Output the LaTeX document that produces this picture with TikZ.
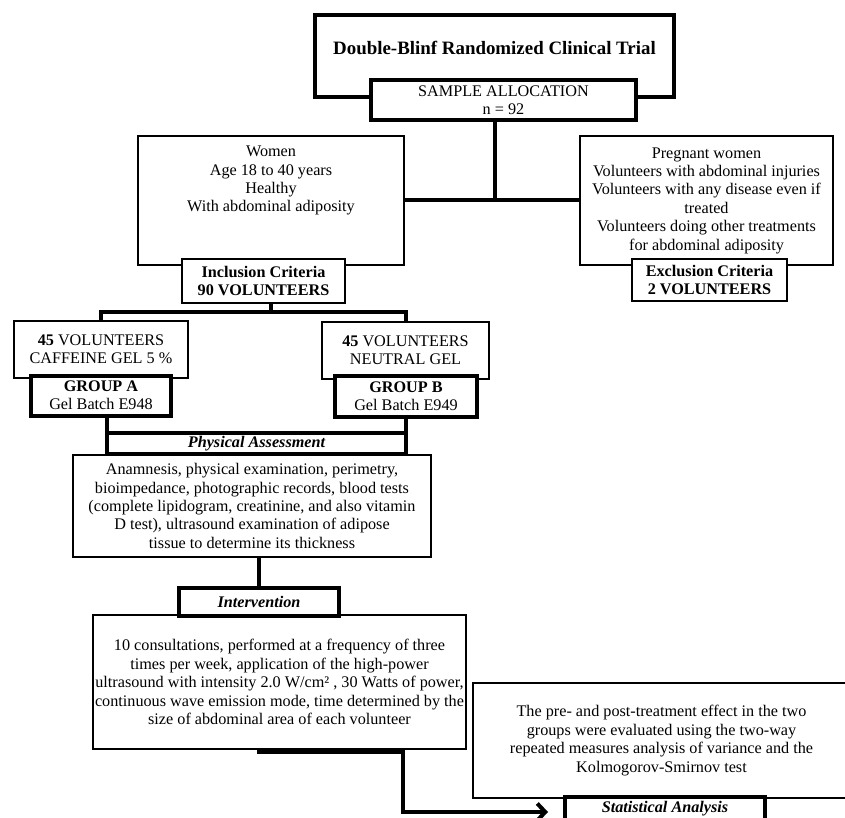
\documentclass[tikz,border=0pt]{standalone}
\usepackage{fontspec}
\setmainfont{Liberation Serif}
\usetikzlibrary{arrows.meta,positioning,backgrounds}
\newcommand{\chartfont}{\fontsize{16.2}{18.4}\selectfont}

\begin{document}
\begin{tikzpicture}[
  x=1pt, y=-1pt,
  thinbox/.style={rectangle, draw, line width=1.1pt, fill=white, align=center, inner sep=0pt, outer sep=0pt, font=\chartfont},
  thickbox/.style={rectangle, draw, line width=4pt, fill=white, align=center, inner sep=0pt, outer sep=0pt, font=\chartfont},
  boldtxt/.style={font=\chartfont\bfseries},
  itbold/.style={font=\chartfont\bfseries\itshape},
  wire/.style={line width=4pt},
  arrow/.style={wire, -{Straight Barb[length=8pt,width=17pt]}}
]
  \path[use as bounding box, clip] (0,0) rectangle (845,818);

  \node[thickbox, minimum width=359pt, minimum height=82pt, text depth=16pt, font=\fontsize{18.9}{22}\selectfont\bfseries] (trial) at (494.5,56) {Double-Blinf Randomized Clinical Trial};
  \node[thickbox, minimum width=265pt, minimum height=40pt] (sample) at (503.5,100) {SAMPLE ALLOCATION\\n = 92};

  \node[thinbox, inner ysep=10pt] (incl) at (271,200.5)
    {\parbox[c][109pt][t]{266pt}{\centering Women\\Age 18 to 40 years\\Healthy\\With abdominal adiposity}};
  \node[thinbox, boldtxt, minimum width=163pt, minimum height=44pt] (inclcrit) at (263.5,281) {Inclusion Criteria\\90 VOLUNTEERS};
  \node[thinbox, minimum width=253pt, minimum height=129pt] (excl) at (706.5,200.5)
    {Pregnant women\\Volunteers with abdominal injuries\\Volunteers with any disease even if\\treated\\Volunteers doing other treatments\\for abdominal adiposity};
  \node[thinbox, boldtxt, minimum width=155pt, minimum height=42pt] (exclcrit) at (709.5,280) {Exclusion Criteria\\2 VOLUNTEERS};

  \node[thinbox, minimum width=174pt, minimum height=57pt] (ga) at (101,349.5) {\textbf{45} VOLUNTEERS\\CAFFEINE GEL 5 \%};
  \node[thickbox, minimum width=140pt, minimum height=40pt] (gabatch) at (101,395.5) {\textbf{GROUP A}\\Gel Batch E948};
  \node[thinbox, minimum width=167pt, minimum height=57pt] (gb) at (405.5,350.5) {\textbf{45} VOLUNTEERS\\NEUTRAL GEL};
  \node[thickbox, minimum width=142pt, minimum height=41pt] (gbbatch) at (406,396.5) {\textbf{GROUP B}\\Gel Batch E949};

  \node[thinbox, minimum width=358pt, minimum height=102pt] (physdesc) at (252,506)
    {Anamnesis, physical examination, perimetry,\\bioimpedance, photographic records, blood tests\\(complete lipidogram, creatinine, and also vitamin\\D test), ultrasound examination of adipose\\tissue to determine its thickness};
  \node[thickbox, itbold, minimum width=299pt, minimum height=21pt] (physical) at (256.5,443.5) {Physical Assessment};

  \node[thinbox, minimum width=373pt, minimum height=134pt] (intdesc) at (279.5,682)
    {10 consultations, performed at a frequency of three\\times per week, application of the high-power\\ultrasound with intensity 2.0 W/cm² , 30 Watts of power,\\continuous wave emission mode, time determined by the\\size of abdominal area of each volunteer};
  \node[thickbox, itbold, minimum width=160pt, minimum height=28pt] (interv) at (259,602) {Intervention};

  \node[thinbox, minimum width=377pt, minimum height=115pt] (statdesc) at (661.5,740.5)
    {The pre- and post-treatment effect in the two\\groups were evaluated using the two-way\\repeated measures analysis of variance and the\\Kolmogorov-Smirnov test};
  \node[thickbox, itbold, minimum width=200pt, minimum height=24pt] (stat) at (665,809) {Statistical Analysis};

  \coordinate (turn) at (403,752);

  \begin{scope}[on background layer]
    \draw[wire] (trial.center) -- (trial.center |- incl.east);
    \draw[wire] (incl.east) -- (excl.west);
    \draw[wire] (incl.center) -- ([yshift=9pt]ga.north -| incl.center);
    \draw[wire] (ga.north) -- ++(0,-9) -| (gb.north);
    \draw[wire] (physical.north west) -- (physical.north west |- gabatch.center);
    \draw[wire] (physical.north east) -- (physical.north east |- gbbatch.center);
    \draw[wire] (interv.center) -- (interv.center |- physdesc.center);
    \draw[arrow] (interv.center) |- (turn) |- ([xshift=-17pt,yshift=-3pt]stat.west);
  \end{scope}
\end{tikzpicture}
\end{document}
